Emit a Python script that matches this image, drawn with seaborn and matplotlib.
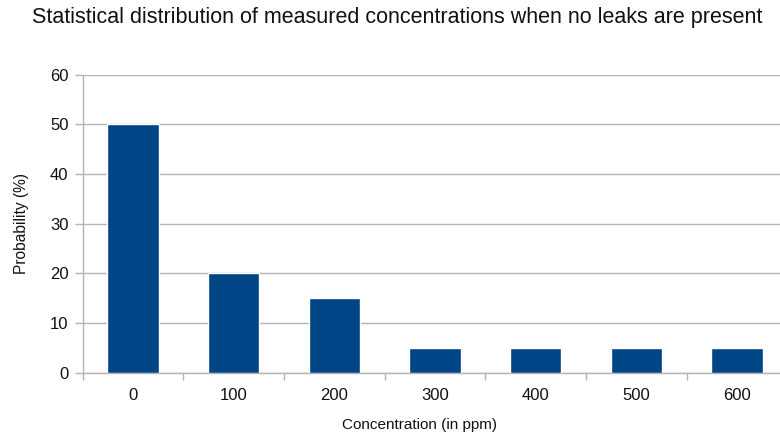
import matplotlib
matplotlib.use("Agg")
import matplotlib.pyplot as plt
import seaborn as sns
import pandas as pd

concentrations = ["0", "100", "200", "300", "400", "500", "600"]
probabilities = [50, 20, 15, 5, 5, 5, 5]
y_ticks = [0, 10, 20, 30, 40, 50, 60]

sns.set_theme(style="white")
plt.rcParams["font.family"] = ["Liberation Sans", "DejaVu Sans"]

df = pd.DataFrame({"Concentration": concentrations, "Probability": probabilities})

W, H = 780, 437
fig = plt.figure(figsize=(W / 100, H / 100), dpi=100)
left, right, top, bottom = 82.5, 787.5, 74.7, 372.7
ax = fig.add_axes([left / W, 1 - bottom / H, (right - left) / W, (bottom - top) / H])

sns.barplot(data=df, x="Concentration", y="Probability", color="#004586",
            width=0.51, saturation=1, ax=ax, zorder=3)

grid_c = "#b3b3b3"
txt_c = "#111111"
ax.set_ylim(0, 60)
ax.set_xlim(-0.5, len(concentrations) - 0.5)
ax.set_yticks(y_ticks)
ax.yaxis.grid(True, color=grid_c, linewidth=1, zorder=0)
ax.set_axisbelow(True)

for side in ["top", "right"]:
    ax.spines[side].set_visible(False)
for side in ["left", "bottom"]:
    ax.spines[side].set_color(grid_c)
    ax.spines[side].set_linewidth(1)

# ticks on the category boundaries along x
ax.set_xticks([i - 0.5 for i in range(len(concentrations) + 1)], minor=False)
ax.set_xticklabels([])
ax.set_xticks(range(len(concentrations)), minor=True)
ax.set_xticklabels(concentrations, minor=True)
ax.tick_params(axis="x", which="major", length=5, width=1, color=grid_c, direction="out", bottom=True)
ax.tick_params(axis="x", which="minor", length=0, pad=11, labelsize=12, labelcolor=txt_c)
ax.tick_params(axis="y", length=6, width=1, color=grid_c, direction="out", left=True,
               pad=4, labelsize=12, labelcolor=txt_c)

ax.set_xlabel("Concentration (in ppm)", fontsize=11, color=txt_c)
ax.xaxis.set_label_coords((420 - left) / (right - left), -(425 - bottom) / (bottom - top))
ax.xaxis.label.set_verticalalignment("center")
ax.set_ylabel("Probability (%)", fontsize=11.2, color=txt_c)
ax.yaxis.set_label_coords(-(82.5 - 22) / (right - left), 0.5)
ax.yaxis.label.set_verticalalignment("center")

fig.text(397 / W, 1 - 18 / H, "Statistical distribution of measured concentrations when no leaks are present",
         ha="center", va="center", fontsize=15.5, color=txt_c)

fig.savefig("out.png", dpi=100)
